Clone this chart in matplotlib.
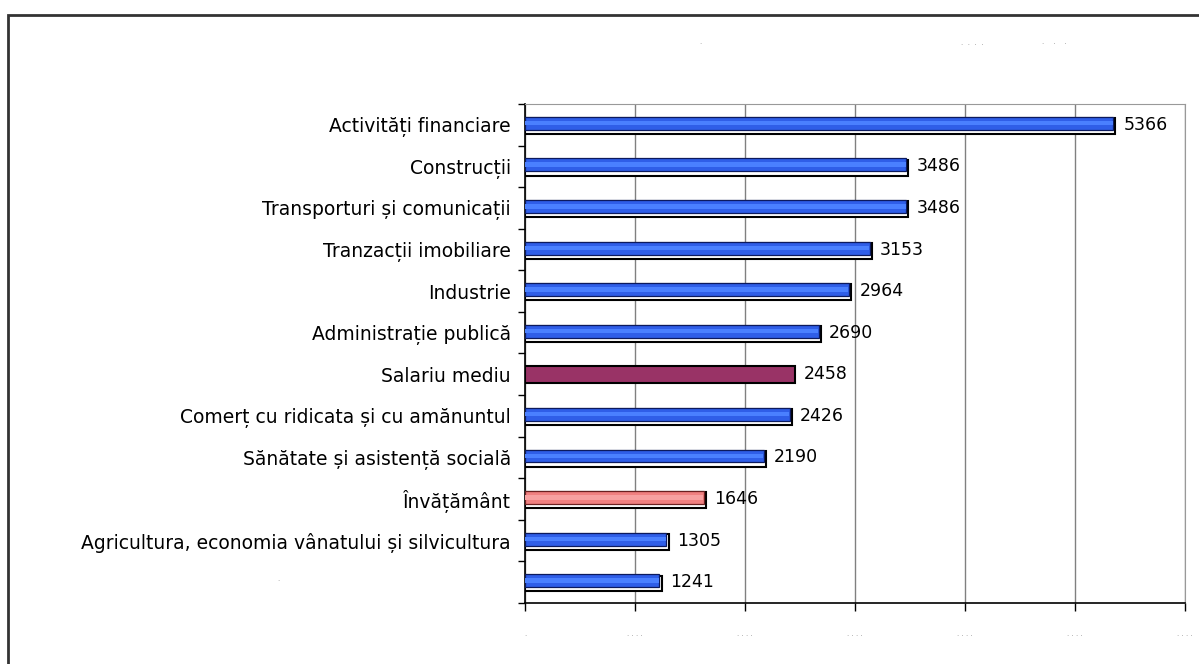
import numpy as np
import matplotlib.pyplot as plt
from matplotlib.patches import Rectangle

categories = ['Activități financiare', 'Construcții', 'Transporturi și comunicații',
              'Tranzacții imobiliare', 'Industrie', 'Administrație publică',
              'Salariu mediu', 'Comerț cu ridicata și cu amănuntul',
              'Sănătate și asistență socială', 'Învățământ',
              'Agricultura, economia vânatului și silvicultura', '']
values = [5366, 3486, 3486, 3153, 2964, 2690, 2458, 2426, 2190, 1646, 1305, 1241]
kinds = ['ramura'] * 12
kinds[6] = 'medie'
kinds[9] = 'invatamant'

fill = {'ramura': '#2f5ee8', 'medie': '#993366', 'invatamant': '#f08080'}
stripe = {'ramura': '#4a80ff', 'medie': '#993366', 'invatamant': '#f7a0a0'}
edge = {'ramura': '#0c1a5e', 'medie': '#1a1a1a', 'invatamant': '#6a2020'}

fig = plt.figure(figsize=(11.99, 6.64), dpi=100)
ax = fig.add_axes([525 / 1199, 1 - 603 / 664, 660 / 1199, 499 / 664])

y = np.arange(len(values))
for yi, v, k in zip(y, values, kinds):
    if k == 'medie':
        ax.barh(yi, v, height=0.41, color=fill[k], edgecolor='black', linewidth=1.5, zorder=3)
    else:
        # umbra alba cu contur negru, putin mai jos
        ax.barh(yi + 0.03, v, height=0.38, color='white', edgecolor='black', linewidth=1.5, zorder=3)
        ax.barh(yi - 0.035, v - 20, height=0.31, color=fill[k], edgecolor=edge[k], linewidth=0.9, zorder=4)
        ax.barh(yi - 0.04, v - 25, height=0.11, color=stripe[k], linewidth=0, zorder=5)
    ax.text(v + 75, yi, str(v), va='center', ha='left', fontsize=12.5, zorder=6)

ax.set_ylim(len(values) - 0.5, -0.5)
ax.set_xlim(0, 6000)
ax.set_xticks(np.arange(0, 6001, 1000))
ax.set_xticklabels(['.'] + ['. . . .'] * 6, fontsize=5, color='#999999')
ax.tick_params(axis='x', pad=14, length=6, width=1, color='black')
ax.set_yticks(np.arange(-0.5, len(values), 1))
ax.set_yticklabels([])
ax.set_yticks(y, minor=True)
ax.set_yticklabels(categories, minor=True, fontsize=13.5)
ax.tick_params(axis='y', which='minor', length=0, pad=10)
ax.tick_params(axis='y', which='major', length=5, width=1, color='black')

ax.grid(axis='x', color='#808080', linewidth=1, zorder=0)
ax.set_axisbelow(True)
for s in ['top', 'right']:
    ax.spines[s].set_color('#999999')
ax.spines['left'].set_linewidth(1.2)
ax.spines['bottom'].set_linewidth(1.2)

# resturi de text din original (puncte)
fig.text(278 / 1199, 1 - 581 / 664, '.', fontsize=5, color='#999999', ha='center')
fig.text(700 / 1199, 1 - 44 / 664, '.', fontsize=5, color='#999999', ha='center')
fig.text(972 / 1199, 1 - 45 / 664, '.  .  .  .', fontsize=5, color='#999999', ha='center')
fig.text(1054 / 1199, 1 - 44 / 664, '.    .    .', fontsize=5, color='#999999', ha='center')

fig.patches.append(Rectangle((8 / 1199, -0.1), 1.2, 1.1 - 15 / 664, transform=fig.transFigure,
                             fill=False, edgecolor='#333333', linewidth=2))

fig.savefig('out.png', dpi=100)
